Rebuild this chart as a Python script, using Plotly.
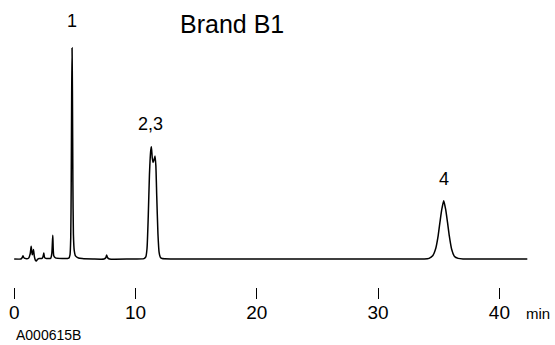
import plotly.graph_objects as go

# Chromatogram trace (time in min, signal in relative units)
time_min = [0.0, 0.55, 0.65, 0.72, 0.80, 0.95, 1.20, 1.32, 1.40, 1.48, 1.52, 1.59, 1.66, 1.74, 1.82, 1.92, 2.05,
            2.30, 2.38, 2.44, 2.50, 2.60, 3.00, 3.10, 3.18, 3.26, 3.40, 4.50, 4.60, 4.66, 4.70, 4.74, 4.77,
            4.80, 4.84, 4.88, 4.95, 5.05, 5.30, 5.60, 6.50, 7.40, 7.55, 7.62, 7.70, 7.85, 9.50, 10.70, 10.85,
            10.95, 11.05, 11.15, 11.25, 11.31, 11.38, 11.45, 11.53, 11.61, 11.68, 11.75, 11.85, 11.95, 12.05,
            12.20, 13.00, 20.0, 30.0, 33.80, 34.20, 34.50, 34.75, 34.95, 35.10, 35.25, 35.41, 35.57, 35.72,
            35.87, 36.07, 36.30, 36.60, 37.00, 40.0, 42.3]
signal = [0.0, 0.0, 0.6, 1.5, 0.6, 0.2, 0.5, 2.5, 6.0, 2.0, 2.5, 4.5, 1.2, -0.5, -1.0, -0.2, 0.2,
          0.3, 1.2, 2.8, 0.8, 0.3, 0.3, 2.5, 11.2, 1.5, 0.5, 0.4, 2.0, 10.0, 35.0, 80.0, 100.0,
          80.0, 35.0, 12.0, 4.0, 1.5, 0.5, 0.2, 0.0, 0.0, 0.6, 1.9, 0.6, 0.0, 0.0, 0.2, 1.0,
          5.0, 20.0, 40.0, 51.0, 53.2, 48.0, 45.7, 47.0, 48.8, 44.0, 30.0, 12.0, 3.0, 0.8,
          0.2, 0.0, 0.0, 0.0, 0.0, 0.3, 1.5, 5.0, 11.0, 17.5, 23.5, 27.6, 23.5, 17.5,
          11.0, 4.5, 1.2, 0.3, 0.0, 0.0, 0.0]

tick_vals = [0, 10, 20, 30, 40]
tick_text = ["0", "10", "20", "30", "40"]

peak_labels = ["1", "2,3", "4"]
peak_label_x = [4.77, 11.25, 35.41]
peak_label_y = [113.0, 64.0, 38.0]

FONT = "Liberation Sans, Arial, Helvetica, sans-serif"

fig = go.Figure()
fig.add_trace(go.Scatter(x=time_min, y=signal, mode="lines",
                         line=dict(color="black", width=1.5, shape="spline", smoothing=0.5),
                         hoverinfo="skip", showlegend=False))

for txt, x, y in zip(peak_labels, peak_label_x, peak_label_y):
    fig.add_annotation(x=x, y=y, xref="x", yref="y", text=txt, showarrow=False,
                       font=dict(family=FONT, size=18, color="black"))

fig.add_annotation(x=17.95, y=111.5, xref="x", yref="y", text="Brand B1", showarrow=False,
                   font=dict(family=FONT, size=25, color="black"))

fig.add_annotation(x=538 / 555, y=(287 - 313) / 287, xref="paper", yref="paper", text="min",
                   showarrow=False, xanchor="center", yanchor="middle",
                   font=dict(family=FONT, size=15, color="black"))
fig.add_annotation(x=14 / 555, y=(287 - 335) / 287, xref="paper", yref="paper", text="A000615B",
                   showarrow=False, xanchor="left", yanchor="middle",
                   font=dict(family=FONT, size=14, color="black"))

fig.update_xaxes(range=[-14.2 / 12.13, (555 - 14.2) / 12.13], showgrid=False, zeroline=False,
                 showline=False, tickmode="array", tickvals=tick_vals, ticktext=tick_text,
                 ticks="outside", ticklen=11, tickwidth=1, tickcolor="black", automargin=False,
                 ticklabelstandoff=-3,
                 tickfont=dict(family=FONT, size=19, color="black"))
fig.update_yaxes(range=[-13.27, 122.75], visible=False, showgrid=False, zeroline=False)

fig.update_layout(width=555, height=345, margin=dict(l=0, r=0, t=0, b=58, autoexpand=False),
                  paper_bgcolor="white", plot_bgcolor="white")

fig.write_html("out.html", config={"displayModeBar": False},
               post_script="document.body.style.margin='0';document.body.style.overflow='hidden';")
